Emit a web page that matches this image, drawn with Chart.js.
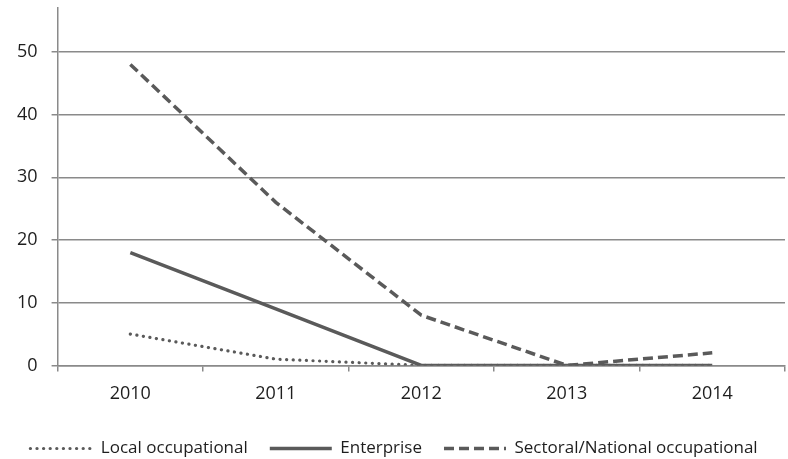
<!DOCTYPE html>
<html>
<head>
<meta charset="utf-8">
<script src="https://cdn.jsdelivr.net/npm/chart.js@4/dist/chart.umd.min.js"></script>
<style>
  html, body { margin: 0; padding: 0; background: #fff; }
  #wrap { width: 788px; height: 459px; }
</style>
</head>
<body>
<div id="wrap"><canvas id="chart"></canvas></div>
<script>
// data
const years = ['2010', '2011', '2012', '2013', '2014'];
const localOcc = [5, 1, 0, 0, 0];
const enterprise = [18, 9, 0, 0, 0];
const sectoralNational = [48, 26, 8, 0, 2];
const yTicks = [0, 10, 20, 30, 40, 50];

const lineColor = '#5a5a5a';
const gridColor = '#8a8a8a';
const textColor = '#1e1e1e';

Chart.defaults.font.family = '"Open Sans", "Noto Sans", sans-serif';
Chart.defaults.font.size = 18;
Chart.defaults.color = textColor;

// legend samples drawn with each dataset's own dash pattern
function legendLabels(chart) {
    return chart.data.datasets.map((ds, i) => ({
        text: ds.label,
        datasetIndex: i,
        hidden: false,
        fillStyle: ds.borderColor,
        strokeStyle: ds.borderColor,
        lineWidth: ds.borderWidth,
        lineDash: ds.borderDash || [],
        lineCap: ds.borderCapStyle || 'butt',
        pointStyle: 'line',
        fontColor: textColor
    }));
}

new Chart(document.getElementById('chart'), {
    type: 'line',
    data: {
        labels: years,
        datasets: [
            {
                label: 'Local occupational',
                data: localOcc,
                borderColor: lineColor,
                borderWidth: 3.2,
                borderDash: [0.1, 6.5],
                borderCapStyle: 'round',
                pointRadius: 0,
                tension: 0
            },
            {
                label: 'Enterprise',
                data: enterprise,
                borderColor: lineColor,
                borderWidth: 3.5,
                pointRadius: 0,
                tension: 0
            },
            {
                label: 'Sectoral/National occupational',
                data: sectoralNational,
                borderColor: lineColor,
                borderWidth: 3.5,
                borderDash: [10, 5],
                pointRadius: 0,
                tension: 0
            }
        ]
    },
    options: {
        responsive: true,
        maintainAspectRatio: false,
        animation: false,
        layout: { padding: { left: 3, right: 3, top: 8, bottom: -8 } },
        plugins: {
            tooltip: { enabled: false },
            legend: {
                position: 'bottom',
                labels: {
                    usePointStyle: true,
                    pointStyleWidth: 62,
                    boxHeight: 17,
                    padding: 22,
                    font: { size: 17 },
                    color: textColor,
                    generateLabels: legendLabels
                }
            }
        },
        scales: {
            x: {
                offset: true,
                afterFit: axis => {
                    // a little air between year labels and legend
                    axis.height += 1;
                },
                grid: {
                    offset: true,
                    drawOnChartArea: false,
                    drawTicks: true,
                    tickLength: 6,
                    color: gridColor,
                    lineWidth: 1.5
                },
                border: { color: gridColor, width: 1.5 },
                ticks: { padding: 12, color: textColor }
            },
            y: {
                min: 0,
                max: 57,
                afterBuildTicks: axis => {
                    axis.ticks = yTicks.map(v => ({ value: v }));
                },
                afterFit: axis => {
                    // no room needed above: the top tick (50) sits well below the axis end
                    axis.paddingTop = 0;
                },
                grid: {
                    color: gridColor,
                    lineWidth: 1.5,
                    tickLength: 6
                },
                border: { color: gridColor, width: 1.5 },
                ticks: { padding: 14, color: textColor }
            }
        }
    }
});
</script>
</body>
</html>
